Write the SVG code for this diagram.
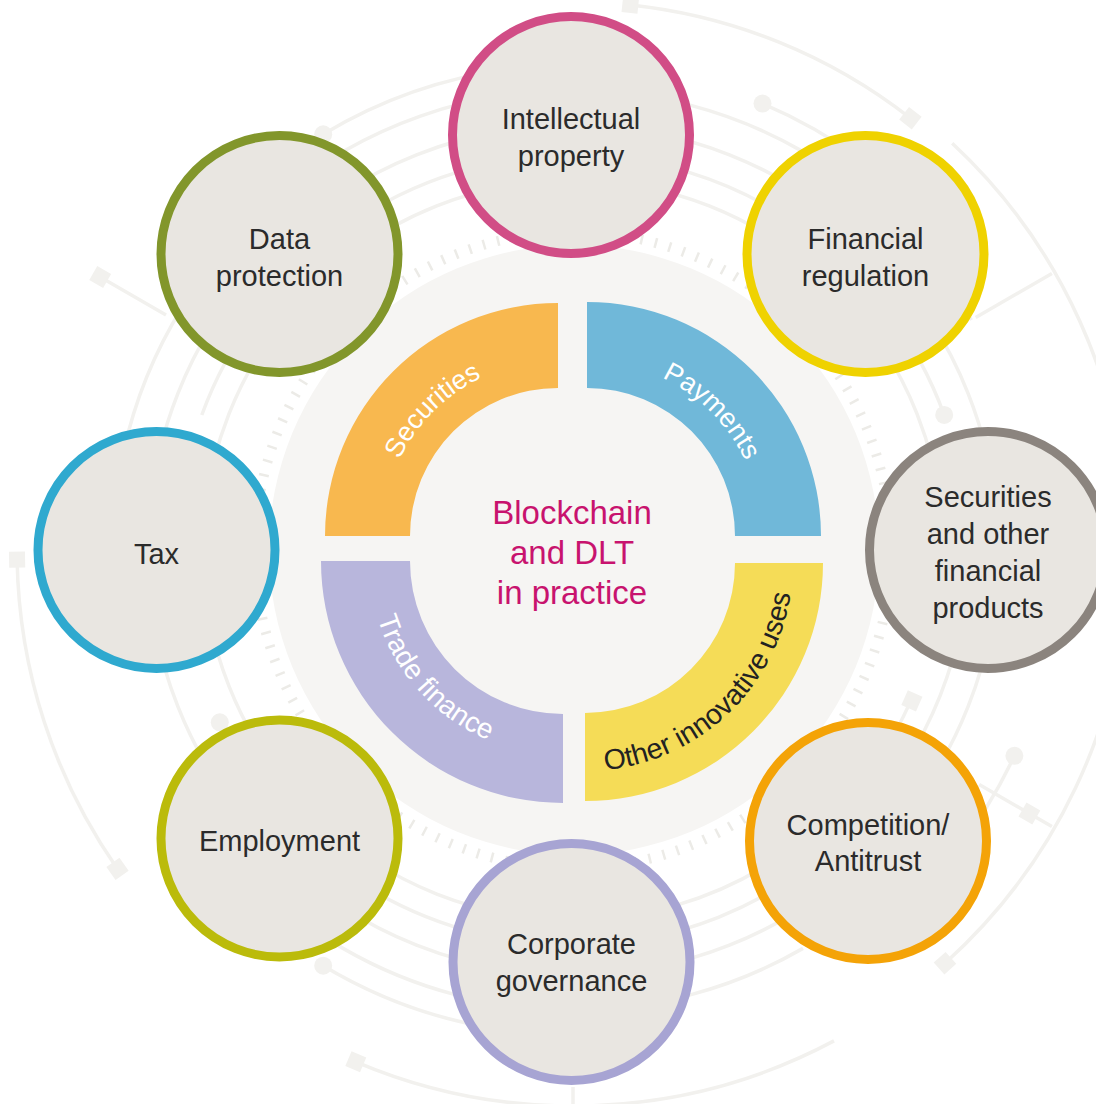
<svg xmlns="http://www.w3.org/2000/svg" width="1096" height="1104" viewBox="0 0 1096 1104">
  <style>
    .deco { fill: none; stroke: #f2f1ee; stroke-width: 3.5; }
    .deco-f { fill: #f2f1ee; }
    .tick { fill: none; stroke: #ecebe7; stroke-width: 10; stroke-dasharray: 2.5 12; }
    .node circle { fill: #e9e6e1; stroke-width: 9; }
    .node text { font-family: "Liberation Sans", Arial, sans-serif; font-size: 29px; fill: #2b2b2b; text-anchor: middle; }
    .seg-lbl { font-family: "Liberation Sans", Arial, sans-serif; font-size: 27px; fill: #ffffff; }
    .seg-dark { fill: #222222; font-size: 28.5px; }
    .title { font-family: "Liberation Sans", Arial, sans-serif; font-size: 33px; fill: #c8136e; text-anchor: middle; }
  </style>
  <defs>
    <path id="arcSecurities" d="M405.6,624 A176,176 0 0 1 646,383.6"/>
    <path id="arcPayments" d="M499.5,384.4 A175,175 0 0 1 738.6,623.5"/>
    <path id="arcTrade" d="M399.7,456.2 A194,194 0 0 0 652,733.4"/>
    <path id="arcOther" d="M476.3,740.3 A208,208 0 0 0 767.8,463.7"/>
    <rect id="sq" x="-8" y="-8" width="16" height="16"/>
  </defs>

  <rect width="1096" height="1104" fill="#ffffff"/>

  <!-- faint circuit-style backdrop -->
  <g id="backdrop">
    <circle class="deco" cx="573" cy="550" r="370" pathLength="360" stroke-dasharray="0 24 336"/>
    <circle class="deco" cx="573" cy="550" r="395" pathLength="360" stroke-dasharray="154 46 140 20"/>
    <circle class="deco" cx="573" cy="550" r="425" stroke-width="3"/>
    <circle class="deco" cx="573" cy="550" r="460" pathLength="360" stroke-dasharray="0 60 90 40 140 30"/>

    <path class="deco" d="M630.3,5 A548,548 0 0 1 910.4,118.2"/>
    <path class="deco" d="M952.2,143.3 A556,556 0 0 1 945,963.2"/>
    <path class="deco" d="M834,1040.9 A556,556 0 0 1 355.8,1061.8"/>
    <path class="deco" d="M117.5,868.9 A556,556 0 0 1 17.1,559.7"/>
    <path class="deco" d="M323.2,134.3 A485,485 0 0 1 513.9,68.6"/>
    <path class="deco" d="M762.5,103.6 A485,485 0 0 1 944.5,238.2"/>
    <path class="deco" d="M488.8,1027.6 A485,485 0 0 1 323.2,965.7"/>
    <path class="deco" d="M1014.4,755.8 A487,487 0 0 1 956.8,849.8"/>
    <path class="deco" d="M166,315 L100.2,277 M975.7,317.5 L1051.9,273.5 M979.2,784.5 L1051.9,826.5 M573,1087 L573,1104"/>

    <g class="deco-f">
      <circle cx="323.2" cy="134.3" r="9"/>
      <circle cx="762.5" cy="103.6" r="9"/>
      <circle cx="323.2" cy="965.7" r="9"/>
      <circle cx="1014.4" cy="755.8" r="9"/>
      <circle cx="944.2" cy="414.9" r="9"/>
      <circle cx="219.8" cy="722.3" r="9"/>
      <use href="#sq" transform="translate(630.3,5) rotate(-84)"/>
      <use href="#sq" transform="translate(910.4,118.2) rotate(-52)"/>
      <use href="#sq" transform="translate(945,963.2) rotate(48)"/>
      <use href="#sq" transform="translate(355.8,1061.8) rotate(113)"/>
      <use href="#sq" transform="translate(117.5,868.9) rotate(145)"/>
      <use href="#sq" transform="translate(17.1,559.7) rotate(179)"/>
      <use href="#sq" transform="translate(100.2,277) rotate(210)"/>
      <use href="#sq" transform="translate(1029.4,813.5) rotate(30)"/>
      <use href="#sq" transform="translate(911.9,700.9) rotate(24)"/>
    </g>

    <circle class="tick" cx="573" cy="550" r="318"/>
    <circle cx="574" cy="550" r="305" fill="#f6f5f3"/>
  </g>

  <!-- central ring of application areas -->
  <g id="ring">
    <g id="seg-securities">
      <path d="M325,536 A233,233 0 0 1 558,303 L558,388 A148,148 0 0 0 410,536 Z" fill="#f8b84f"/>
      <text class="seg-lbl"><textPath href="#arcSecurities" startOffset="50%" text-anchor="middle">Securities</textPath></text>
    </g>
    <g id="seg-payments">
      <path d="M587,302 A234,234 0 0 1 821,536 L735,536 A148,148 0 0 0 587,388 Z" fill="#70b8d9"/>
      <text class="seg-lbl"><textPath href="#arcPayments" startOffset="50%" text-anchor="middle">Payments</textPath></text>
    </g>
    <g id="seg-trade">
      <path d="M321,561 L410,561 A153,153 0 0 0 563,714 L563,803 A242,242 0 0 1 321,561 Z" fill="#b8b6dc"/>
      <text class="seg-lbl" style="font-size:28px"><textPath href="#arcTrade" startOffset="50%" text-anchor="middle">Trade finance</textPath></text>
    </g>
    <g id="seg-other">
      <path d="M585,713 A150,150 0 0 0 735,563 L823,563 A238,238 0 0 1 585,801 Z" fill="#f5dc57"/>
      <!-- one word per run so each run hugs its own stretch of the arc -->
      <text class="seg-lbl seg-dark"><textPath href="#arcOther" startOffset="134.5">Other</textPath></text>
      <text class="seg-lbl seg-dark"><textPath href="#arcOther" startOffset="213.7">innovative</textPath></text>
      <text class="seg-lbl seg-dark"><textPath href="#arcOther" startOffset="349.9">uses</textPath></text>
    </g>
    <g id="title">
      <text class="title" x="572" y="524">Blockchain</text>
      <text class="title" x="572" y="564">and DLT</text>
      <text class="title" x="572" y="604">in practice</text>
    </g>
  </g>

  <!-- legal areas -->
  <g id="node-ip" class="node">
    <circle cx="571" cy="135" r="118.5" stroke="#d14d86"/>
    <text x="571" y="129">Intellectual</text>
    <text x="571" y="166">property</text>
  </g>
  <g id="node-finreg" class="node">
    <circle cx="865.5" cy="254" r="118.5" stroke="#efd200"/>
    <text x="865.5" y="249">Financial</text>
    <text x="865.5" y="286">regulation</text>
  </g>
  <g id="node-secprod" class="node">
    <circle cx="988" cy="550" r="118.5" stroke="#8b847e"/>
    <text x="988" y="507">Securities</text>
    <text x="988" y="544">and other</text>
    <text x="988" y="581">financial</text>
    <text x="988" y="618">products</text>
  </g>
  <g id="node-competition" class="node">
    <circle cx="868" cy="841" r="118.5" stroke="#f4a307"/>
    <text x="868" y="835">Competition/</text>
    <text x="868" y="871">Antitrust</text>
  </g>
  <g id="node-governance" class="node">
    <circle cx="571.5" cy="962" r="118.5" stroke="#a7a4d3"/>
    <text x="571.5" y="954">Corporate</text>
    <text x="571.5" y="991">governance</text>
  </g>
  <g id="node-employment" class="node">
    <circle cx="279.5" cy="838.5" r="118.5" stroke="#bbbb0b"/>
    <text x="279.5" y="851">Employment</text>
  </g>
  <g id="node-tax" class="node">
    <circle cx="156.5" cy="550" r="118.5" stroke="#2fa9cf"/>
    <text x="156.5" y="564">Tax</text>
  </g>
  <g id="node-dataprot" class="node">
    <circle cx="279.5" cy="254" r="118.5" stroke="#82962b"/>
    <text x="279.5" y="249">Data</text>
    <text x="279.5" y="286">protection</text>
  </g>

  <g id="connectors"/>
</svg>
